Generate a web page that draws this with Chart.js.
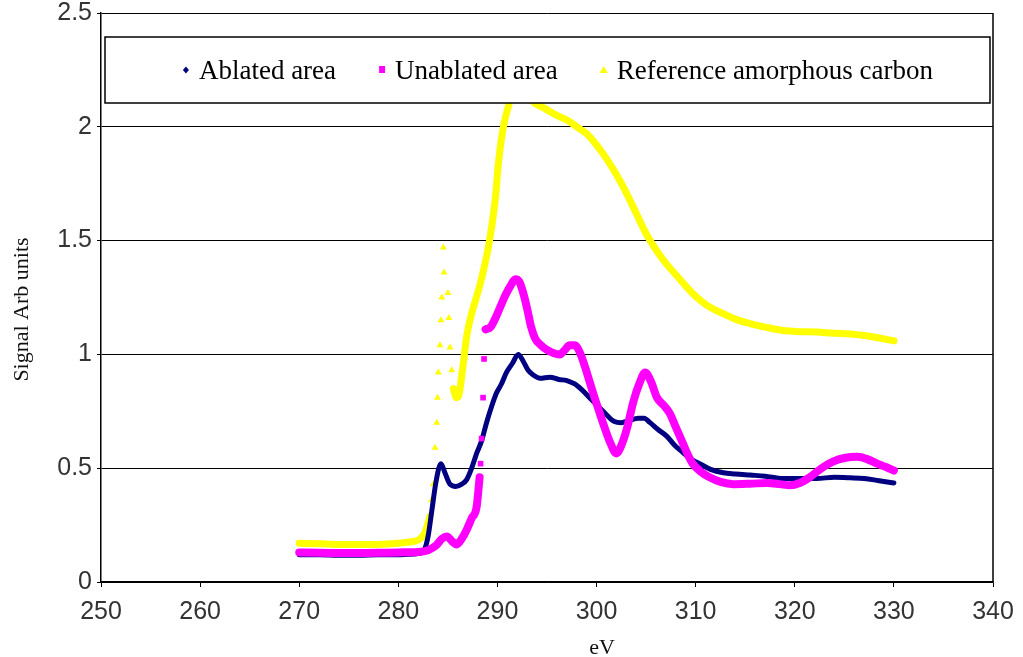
<!DOCTYPE html>
<html>
<head>
<meta charset="utf-8">
<script src="https://cdn.jsdelivr.net/npm/chart.js@4.4.1/dist/chart.umd.min.js"></script>
<style>
  html, body { margin: 0; padding: 0; background: #fff; }
  #wrap { width: 1023px; height: 657px; position: relative; }
</style>
</head>
<body>
<div id="wrap"><canvas id="c"></canvas></div>
<script>
// Carbon K-edge absorption spectra: signal (arbitrary units) against photon energy (eV)
const seriesNames = ['Ablated area', 'Unablated area', 'Reference amorphous carbon'];

const xRange = [250, 340];
const yRange = [0, 2.5];

// Ablated area
const ablatedEv = [270, 272, 274, 276, 278, 280, 281, 282, 282.6, 283.0, 283.4, 283.8, 284.3, 284.7,
  285.2, 285.8, 286.4, 286.9, 287.4, 287.9, 288.4, 288.9, 289.4, 289.9, 290.4, 290.9, 291.5, 292.1,
  292.6, 293.1, 293.6, 294.3, 295.3, 296.2, 297.0, 297.8, 298.5, 299.3, 300.2, 301.0, 301.8, 302.5,
  303.3, 304.2, 304.8, 305.4, 306.2, 307.1, 307.9, 308.7, 309.5, 310.4, 311.5, 312.8, 314.0, 315.5,
  317.0, 318.8, 320.5, 322.2, 324.0, 325.6, 327.0, 328.5, 330];
const ablatedSignal = [0.12, 0.12, 0.118, 0.118, 0.12, 0.12, 0.122, 0.125, 0.14, 0.2, 0.32, 0.44, 0.52, 0.48,
  0.43, 0.42, 0.43, 0.45, 0.5, 0.565, 0.62, 0.70, 0.77, 0.83, 0.87, 0.92, 0.96, 1.0,
  0.97, 0.93, 0.91, 0.895, 0.9, 0.89, 0.885, 0.87, 0.845, 0.81, 0.77, 0.735, 0.705, 0.70,
  0.71, 0.72, 0.72, 0.70, 0.67, 0.64, 0.60, 0.57, 0.54, 0.52, 0.495, 0.48, 0.475, 0.47,
  0.465, 0.455, 0.455, 0.455, 0.46, 0.458, 0.455, 0.445, 0.435];

// Unablated area: lower scan, isolated points at the step, upper scan
const unablatedLowEv = [270, 272, 274, 276, 278, 280, 282, 283, 283.8, 284.4, 284.9, 285.4, 285.9,
  286.4, 286.9, 287.4, 287.9, 288.2];
const unablatedLowSignal = [0.13, 0.128, 0.127, 0.127, 0.128, 0.13, 0.132, 0.14, 0.16, 0.19, 0.20, 0.18, 0.165,
  0.19, 0.23, 0.28, 0.33, 0.46];
const unablatedStepEv = [288.3, 288.4, 288.55, 288.65];
const unablatedStepSignal = [0.52, 0.63, 0.81, 0.98];
const unablatedHighEv = [288.8, 289.3, 289.8, 290.3, 290.8, 291.3, 291.8, 292.2, 292.6, 293.0, 293.4,
  293.8, 294.4, 295.0, 295.7, 296.3, 296.8, 297.3, 297.8, 298.3, 298.8, 299.3, 299.8, 300.3, 300.8,
  301.4, 302.0, 302.5, 303.1, 303.7, 304.3, 304.9, 305.5, 306.1, 306.8, 307.4, 308.0, 308.7, 309.2,
  309.7, 310.5, 311.4, 312.5, 313.8, 315.5, 317.2, 318.5, 319.5, 320.5, 321.5, 322.7, 323.9, 325.0,
  326.3, 327.3, 328.3, 329.2, 330];
const unablatedHighSignal = [1.11, 1.12, 1.16, 1.21, 1.26, 1.30, 1.33, 1.32, 1.27, 1.2, 1.12,
  1.07, 1.04, 1.02, 1.005, 1.0, 1.02, 1.04, 1.04, 1.01, 0.95, 0.88, 0.81, 0.745, 0.68,
  0.61, 0.565, 0.6, 0.68, 0.79, 0.87, 0.92, 0.88, 0.81, 0.775, 0.74, 0.68, 0.61, 0.56,
  0.52, 0.485, 0.46, 0.44, 0.43, 0.432, 0.435, 0.43, 0.425, 0.435, 0.46, 0.5, 0.53, 0.545,
  0.55, 0.54, 0.52, 0.505, 0.49];

// Reference amorphous carbon: pre-edge, sparse points over the sharp peak, main edge
const referenceLowEv = [270, 272, 274, 276, 278, 280, 281, 282, 282.6, 283.0, 283.2];
const referenceLowSignal = [0.17, 0.168, 0.165, 0.165, 0.165, 0.17, 0.175, 0.185, 0.21, 0.26, 0.29];
const referencePeakEv = [283.35, 283.53, 283.7, 283.87, 283.95, 284.03, 284.2, 284.3, 284.38, 284.54,
  284.62, 285.0, 285.1, 285.21, 285.38];
const referencePeakSignal = [0.36, 0.43, 0.59, 0.70, 0.81, 0.92, 1.04, 1.15, 1.25, 1.47,
  1.36, 1.27, 1.16, 1.03, 0.93];
const referenceHighEv = [285.55, 285.85, 286.1, 286.5, 286.9, 287.4, 287.8, 288.2, 288.7, 289.2, 289.8,
  290.1, 290.6, 291.1, 291.6, 292.2, 292.8, 293.6, 294.8, 296.0, 297.0, 298.0, 299.0, 300.0, 301.0,
  302.0, 303.0, 304.0, 305.0, 306.0, 307.0, 308.0, 309.0, 310.0, 311.0, 312.0, 313.0, 314.0, 315.5,
  317.0, 318.8, 320.5, 322.2, 324.0, 325.6, 327.0, 328.5, 330];
const referenceHighSignal = [0.85, 0.81, 0.82, 0.94, 1.08, 1.18, 1.24, 1.30, 1.39, 1.50, 1.69,
  1.84, 2.0, 2.09, 2.17, 2.2, 2.17, 2.11, 2.08, 2.05, 2.03, 2.0, 1.97, 1.92, 1.86,
  1.79, 1.71, 1.62, 1.53, 1.46, 1.40, 1.35, 1.30, 1.255, 1.22, 1.195, 1.175, 1.155, 1.135,
  1.12, 1.105, 1.10, 1.098, 1.093, 1.09, 1.083, 1.072, 1.06];

const NAVY = '#000080', MAGENTA = '#FF00FF', YELLOW = '#FFFF00';
const seriesColors = [NAVY, MAGENTA, YELLOW];
const seriesMarkers = ['rectRot', 'rect', 'triangle'];

const toPoints = (xs, ys) => xs.map((x, i) => ({ x, y: ys[i] }));

function trace(label, xs, ys, color, width, order) {
  return {
    label, data: toPoints(xs, ys), showLine: true,
    borderColor: color, backgroundColor: color, borderWidth: width,
    borderCapStyle: 'round', borderJoinStyle: 'round',
    pointRadius: 0, cubicInterpolationMode: 'monotone', order
  };
}
function dots(label, xs, ys, color, style, radius, order) {
  return {
    label, data: toPoints(xs, ys), showLine: false,
    borderColor: color, backgroundColor: color, borderWidth: 0,
    pointStyle: style, pointRadius: radius, order
  };
}

const datasets = [
  trace(seriesNames[0], ablatedEv, ablatedSignal, NAVY, 5, 2),
  trace(seriesNames[1], unablatedLowEv, unablatedLowSignal, MAGENTA, 8, 1),
  dots(seriesNames[1], unablatedStepEv, unablatedStepSignal, MAGENTA, 'rect', 4, 1),
  trace(seriesNames[1], unablatedHighEv, unablatedHighSignal, MAGENTA, 8, 1),
  trace(seriesNames[2], referenceLowEv, referenceLowSignal, YELLOW, 7, 3),
  dots(seriesNames[2], referencePeakEv, referencePeakSignal, YELLOW, 'triangle', 4, 3),
  trace(seriesNames[2], referenceHighEv, referenceHighSignal, YELLOW, 7, 3)
];

// Right edge of the plot frame, boxed legend inside the plot, axis titles
const framePlugin = {
  id: 'framePlugin',
  beforeDatasetsDraw(chart) {
    const { ctx, chartArea: a } = chart;
    ctx.save();
    ctx.strokeStyle = '#000';
    ctx.lineWidth = 1.5;
    ctx.beginPath();
    ctx.moveTo(a.right, a.top);
    ctx.lineTo(a.right, a.bottom);
    ctx.stroke();
    ctx.restore();
  },
  afterDatasetsDraw(chart) {
    const { ctx, chartArea: a } = chart;
    const box = { l: a.left + 4, r: a.right - 3, t: a.top + 24, b: a.top + 90 };
    ctx.save();
    ctx.fillStyle = '#fff';
    ctx.fillRect(box.l, box.t, box.r - box.l, box.b - box.t);
    ctx.strokeStyle = '#000';
    ctx.lineWidth = 1.5;
    ctx.strokeRect(box.l, box.t, box.r - box.l, box.b - box.t);

    ctx.font = '27px "Liberation Serif", "Times New Roman", serif';
    ctx.textBaseline = 'alphabetic';
    ctx.textAlign = 'left';
    const markGap = 13, itemGap = 46;
    const widths = seriesNames.map(s => ctx.measureText(s).width);
    const total = widths.reduce((s, w) => s + w + markGap, 0) + itemGap * (seriesNames.length - 1);
    let x = (box.l + box.r) / 2 - total / 2 + 12;
    const cy = (box.t + box.b) / 2;
    seriesNames.forEach((name, i) => {
      ctx.fillStyle = seriesColors[i];
      const st = seriesMarkers[i];
      ctx.beginPath();
      if (st === 'rectRot') {
        ctx.moveTo(x, cy - 3.5); ctx.lineTo(x + 3, cy); ctx.lineTo(x, cy + 3.5); ctx.lineTo(x - 3, cy);
      } else if (st === 'rect') {
        ctx.rect(x - 3, cy - 4, 6, 7);
      } else {
        ctx.moveTo(x, cy - 4); ctx.lineTo(x + 4, cy + 3); ctx.lineTo(x - 4, cy + 3);
      }
      ctx.closePath();
      ctx.fill();
      ctx.fillStyle = '#000';
      ctx.fillText(name, x + markGap, box.t + 42);
      x += markGap + widths[i] + itemGap;
    });
    ctx.restore();
  },
  afterDraw(chart) {
    const { ctx, chartArea: a } = chart;
    ctx.save();
    ctx.fillStyle = '#111';
    ctx.font = '22px "Liberation Serif", "Times New Roman", serif';
    ctx.textAlign = 'center';
    ctx.textBaseline = 'alphabetic';
    ctx.fillText('eV', a.left + (a.right - a.left) * 0.5617, chart.height - 3);
    ctx.translate(28, (a.top + a.bottom) / 2 + 12);
    ctx.rotate(-Math.PI / 2);
    ctx.fillText('Signal Arb units', 0, 0);
    ctx.restore();
  }
};

const xTickFont = { family: '"Liberation Sans", Arial, sans-serif', size: 25, lineHeight: 1.4 };
const yTickFont = { family: '"Liberation Sans", Arial, sans-serif', size: 25, lineHeight: 0.6 };

new Chart(document.getElementById('c'), {
  type: 'scatter',
  data: { datasets },
  options: {
    responsive: true,
    maintainAspectRatio: false,
    animation: false,
    layout: { padding: { top: 13, right: 30, bottom: 0, left: 0 } },
    plugins: { legend: { display: false }, tooltip: { enabled: false } },
    scales: {
      x: {
        type: 'linear', min: xRange[0], max: xRange[1],
        ticks: { stepSize: 10, font: xTickFont, color: '#333', padding: 8, maxRotation: 0 },
        grid: { drawOnChartArea: false, drawTicks: true, tickLength: 5, color: '#000', lineWidth: 1 },
        border: { display: true, color: '#000', width: 1.5 },
        afterFit(scale) { scale.height = 75; }
      },
      y: {
        type: 'linear', min: yRange[0], max: yRange[1],
        ticks: { stepSize: 0.5, font: yTickFont, color: '#333', padding: 5, callback: v => String(v) },
        grid: { drawTicks: true, tickLength: 4, color: '#000', lineWidth: 1 },
        border: { display: true, color: '#000', width: 1.5 },
        afterFit(scale) { scale.width = 101; }
      }
    }
  },
  plugins: [framePlugin]
});
</script>
</body>
</html>
